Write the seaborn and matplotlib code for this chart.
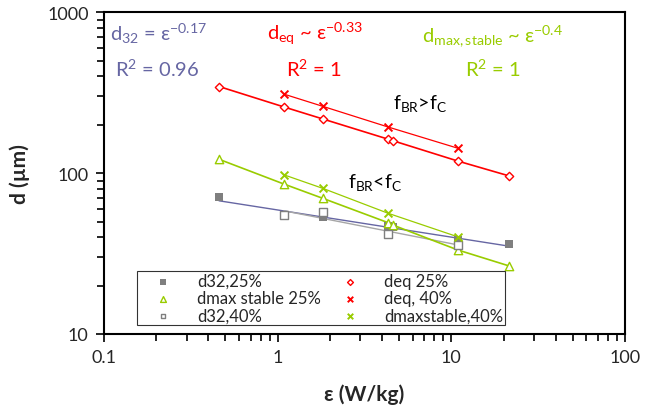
import numpy as np
import pandas as pd
import matplotlib
matplotlib.use('Agg')
import matplotlib.pyplot as plt
import matplotlib.ticker as mticker
import seaborn as sns

#   energy dissipation rate (W/kg)
eps_25 = [0.46, 1.09, 1.83, 4.31, 4.63, 10.9, 21.5]
eps_40 = [1.09, 1.83, 4.31, 10.9]

#   drop sizes (um)
d32_25 = [71.2, 53.8, 53.5, 46.6, 46.0, 38.3, 36.2]
d32_40 = [55.0, 57.4, 42.1, 35.8]
deq_25 = [346, 258, 217, 163, 159, 119, 96.2]
deq_40 = [310, 260, 194, 143]
dmax_25 = [122, 85.5, 69.6, 49.3, 47.5, 33.3, 26.5]
dmax_40 = [97.6, 80.3, 56.4, 40.2]

RED = '#FF0000'
GREEN = '#99CC00'
SLATE = '#6666A3'
GREY = '#7F7F7F'

sns.set_style('white')
plt.rcParams['font.family'] = ['Lato', 'DejaVu Sans']
plt.rcParams['mathtext.fontset'] = 'custom'
plt.rcParams['mathtext.rm'] = 'Lato'
plt.rcParams['mathtext.default'] = 'regular'

fig = plt.figure(figsize = (6.62, 4.06), dpi = 100)
ax = fig.add_axes([0.157, 0.175, 0.787, 0.792])

def power_fit(x, y):
    #   straight line in log-log space
    k, b = np.polyfit(np.log10(x), np.log10(y), 1)
    return pd.DataFrame({'x': x, 'y': 10 ** (b + k * np.log10(x))})

#   trend lines
fit32_25 = power_fit(eps_25, d32_25)
fit32_40 = power_fit(eps_40, d32_40)
sns.lineplot(data = fit32_25, x = 'x', y = 'y', color = SLATE, lw = 1.0, ax = ax)
sns.lineplot(data = fit32_40, x = 'x', y = 'y', color = '#A6A6A6', lw = 1.0, ax = ax)
sns.lineplot(x = eps_25, y = deq_25, color = RED, lw = 1.2, ax = ax)
sns.lineplot(x = eps_40, y = deq_40, color = RED, lw = 0.9, ax = ax)
sns.lineplot(x = eps_25, y = dmax_25, color = GREEN, lw = 1.2, ax = ax)
sns.lineplot(x = eps_40, y = dmax_40, color = GREEN, lw = 0.9, ax = ax)

#   markers
sns.scatterplot(x = eps_25, y = d32_25, marker = 's', s = 32, color = GREY, edgecolor = GREY, linewidth = 0, ax = ax, zorder = 3)
kw_open = dict(facecolor = 'white', linewidth = 1.0, ax = ax, zorder = 3)
sns.scatterplot(x = eps_25, y = dmax_25, marker = '^', s = 36, edgecolor = GREEN, **kw_open)
sns.scatterplot(x = eps_40, y = d32_40, marker = 's', s = 26, edgecolor = GREY, **kw_open)
sns.scatterplot(x = eps_25, y = deq_25, marker = 'D', s = 18, edgecolor = RED, **kw_open)
sns.scatterplot(x = eps_40, y = deq_40, marker = 'x', s = 32, color = RED, linewidth = 1.4, ax = ax, zorder = 3)
sns.scatterplot(x = eps_40, y = dmax_40, marker = 'x', s = 32, color = GREEN, linewidth = 1.4, ax = ax, zorder = 3)

ax.set_xscale('log')
ax.set_yscale('log')
ax.set_xlim(0.1, 100)
ax.set_ylim(10, 1000)
ax.xaxis.set_major_formatter(mticker.FormatStrFormatter('%g'))
ax.yaxis.set_major_formatter(mticker.FormatStrFormatter('%g'))
ax.xaxis.set_minor_formatter(mticker.NullFormatter())
ax.yaxis.set_minor_formatter(mticker.NullFormatter())
ax.tick_params(which = 'both', direction = 'out', bottom = True, left = True, top = False, right = False,
               color = 'black', width = 1.2, labelsize = 13)
ax.tick_params(which = 'major', length = 6, pad = 5)
ax.tick_params(which = 'minor', length = 5)
for sp in ax.spines.values():
    sp.set_color('black')
    sp.set_linewidth(1.5)

ax.set_xlabel('ε (W/kg)', fontsize = 15, fontweight = 'bold', labelpad = 13)
ax.set_ylabel('d (µm)', fontsize = 15, fontweight = 'bold', labelpad = 12)

#   legend, column-major order
marker_sets = ax.collections[-6:]
labels = ['d32,25%', 'dmax stable 25%', 'd32,40%', 'deq 25%', 'deq, 40%', 'dmaxstable,40%']
leg = ax.legend(marker_sets, labels, ncol = 2, loc = 'lower left', bbox_to_anchor = (0.063, 0.028, 0.706, 0.17),
                mode = 'expand', fontsize = 12, frameon = True, fancybox = False, edgecolor = 'black',
                labelspacing = 0.07, handlelength = 3.0, handletextpad = 0.5, borderpad = 0.1,
                markerscale = 0.7, borderaxespad = 0)
leg.get_frame().set_linewidth(0.8)

#   annotations
ax.text(0.012, 0.935, r'd$_{32}$ = ε$^{-0.17}$', transform = ax.transAxes, color = SLATE, fontsize = 14.5, va = 'center')
ax.text(0.022, 0.827, r'R$^{2}$ = 0.96', transform = ax.transAxes, color = SLATE, fontsize = 14.5, va = 'center')
ax.text(0.313, 0.935, r'd$_{eq}$ ~ ε$^{-0.33}$', transform = ax.transAxes, color = RED, fontsize = 14.5, va = 'center')
ax.text(0.35, 0.827, r'R$^{2}$ = 1', transform = ax.transAxes, color = RED, fontsize = 14.5, va = 'center')
ax.text(0.61, 0.93, r'd$_{max,stable}$ ~ ε$^{-0.4}$', transform = ax.transAxes, color = GREEN, fontsize = 14.5, va = 'center')
ax.text(0.693, 0.827, r'R$^{2}$ = 1', transform = ax.transAxes, color = GREEN, fontsize = 14.5, va = 'center')
ax.text(0.555, 0.72, r'f$_{BR}$>f$_{C}$', transform = ax.transAxes, color = 'black', fontsize = 14, va = 'center')
ax.text(0.468, 0.475, r'f$_{BR}$<f$_{C}$', transform = ax.transAxes, color = 'black', fontsize = 14, va = 'center')

plt.savefig('out.png', dpi = 100)
